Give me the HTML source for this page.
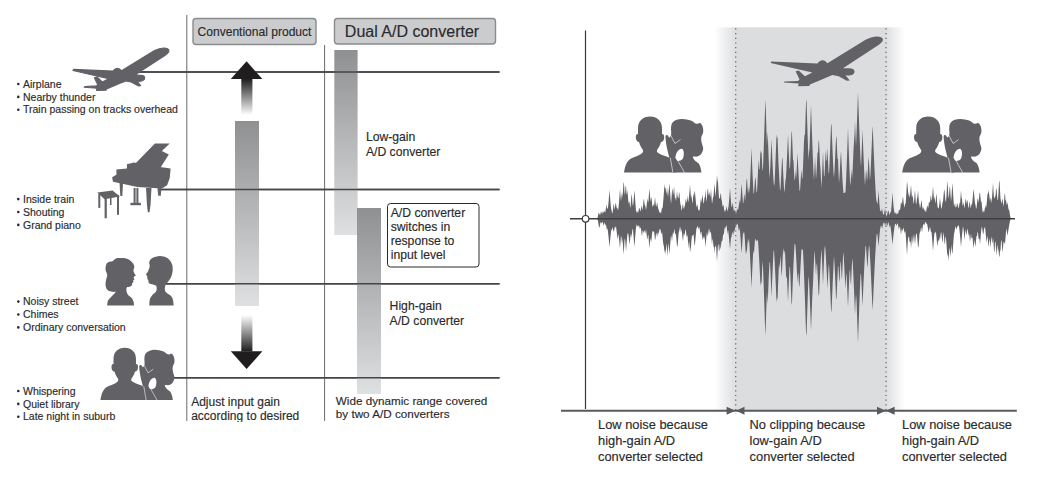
<!DOCTYPE html>
<html><head><meta charset="utf-8"><style>
html,body{margin:0;padding:0;background:#fff;}
svg{display:block;font-family:"Liberation Sans",sans-serif;} text{stroke:#2a2a2c;stroke-width:0.15px;}
</style></head><body>
<svg width="1058" height="481" viewBox="0 0 1058 481">
<rect width="1058" height="481" fill="#fff"/>
<line x1="186.8" y1="15" x2="186.8" y2="421" stroke="#6a6a6c" stroke-width="1"/>
<line x1="324.6" y1="45" x2="324.6" y2="421" stroke="#6a6a6c" stroke-width="1"/>
<line x1="100" y1="72" x2="499.5" y2="72" stroke="#454547" stroke-width="1.6"/>
<line x1="160" y1="189.5" x2="499.5" y2="189.5" stroke="#454547" stroke-width="1.6"/>
<line x1="165" y1="283.7" x2="499.5" y2="283.7" stroke="#454547" stroke-width="1.6"/>
<line x1="170" y1="377.7" x2="499.5" y2="377.7" stroke="#454547" stroke-width="1.6"/>
<rect x="193" y="18.5" width="123" height="26" rx="3" fill="#cbccce" stroke="#8b8b8d" stroke-width="1.4"/>
<text x="254.5" y="35.5" text-anchor="middle" font-size="12.05" fill="#2a2a2c">Conventional product</text>
<rect x="334.5" y="18.5" width="161" height="25.5" rx="3" fill="#cbccce" stroke="#8b8b8d" stroke-width="1.4"/>
<text x="412" y="37" text-anchor="middle" font-size="16" fill="#2a2a2c">Dual A/D converter</text>
<defs><linearGradient id="gbar" x1="0" y1="0" x2="0" y2="1"><stop offset="0" stop-color="#8f9092"/><stop offset="1" stop-color="#dfe0e2"/></linearGradient><linearGradient id="gup" x1="0" y1="0" x2="0" y2="1"><stop offset="0" stop-color="#1f1d1e"/><stop offset="1" stop-color="#ffffff"/></linearGradient><linearGradient id="gdn" x1="0" y1="1" x2="0" y2="0"><stop offset="0" stop-color="#1f1d1e"/><stop offset="1" stop-color="#ffffff"/></linearGradient><linearGradient id="gshL" x1="0" y1="0" x2="1" y2="0"><stop offset="0" stop-color="#ffffff"/><stop offset="1" stop-color="#dcdddf"/></linearGradient><linearGradient id="gshR" x1="0" y1="0" x2="1" y2="0"><stop offset="0" stop-color="#dcdddf"/><stop offset="1" stop-color="#ffffff"/></linearGradient></defs>
<rect x="235" y="121" width="24" height="185" fill="url(#gbar)"/>
<rect x="334.3" y="50" width="23.3" height="185" fill="url(#gbar)"/>
<rect x="357" y="208" width="24" height="186" fill="url(#gbar)"/>
<line x1="100" y1="72" x2="499.5" y2="72" stroke="#454547" stroke-width="1.6"/>
<line x1="160" y1="189.5" x2="499.5" y2="189.5" stroke="#454547" stroke-width="1.6"/>
<line x1="165" y1="283.7" x2="499.5" y2="283.7" stroke="#454547" stroke-width="1.6"/>
<line x1="170" y1="377.7" x2="499.5" y2="377.7" stroke="#454547" stroke-width="1.6"/>
<rect x="241.3" y="79" width="11.1" height="36" fill="url(#gup)"/>
<polygon points="246.6,61.3 262.4,79.1 230.8,79.1" fill="#1f1d1e"/>
<rect x="241.3" y="315" width="11.1" height="36.5" fill="url(#gdn)"/>
<polygon points="230.8,351.2 262.4,351.2 246.6,369" fill="#1f1d1e"/>
<rect x="387.5" y="203.5" width="91.5" height="63.5" rx="3" fill="#fff" stroke="#2a2a2c" stroke-width="1"/>
<text x="390.7" y="216.5" font-size="12.2" fill="#2a2a2c">A/D converter</text>
<text x="390.7" y="230.7" font-size="12.2" fill="#2a2a2c">switches in</text>
<text x="390.7" y="244.9" font-size="12.2" fill="#2a2a2c">response to</text>
<text x="390.7" y="259.1" font-size="12.2" fill="#2a2a2c">input level</text>
<text x="365.9" y="140.7" font-size="12.2" fill="#2a2a2c">Low-gain</text>
<text x="365.9" y="155.8" font-size="12.2" fill="#2a2a2c">A/D converter</text>
<text x="389.6" y="309.6" font-size="12.2" fill="#2a2a2c">High-gain</text>
<text x="389.6" y="324.6" font-size="12.2" fill="#2a2a2c">A/D converter</text>
<text x="191.2" y="405.7" font-size="12" fill="#2a2a2c">Adjust input gain</text>
<text x="191.2" y="420.2" font-size="12" fill="#2a2a2c">according to desired</text>
<text x="335.8" y="404.8" font-size="11.7" fill="#2a2a2c">Wide dynamic range covered</text>
<text x="335.8" y="418.4" font-size="11.7" fill="#2a2a2c">by two A/D converters</text>
<circle cx="18.3" cy="84.0" r="1.3" fill="#2a2a2c"/>
<text x="23" y="87.6" font-size="10.5" fill="#2a2a2c">Airplane</text>
<circle cx="18.3" cy="96.9" r="1.3" fill="#2a2a2c"/>
<text x="23" y="100.5" font-size="10.5" fill="#2a2a2c">Nearby thunder</text>
<circle cx="18.3" cy="109.8" r="1.3" fill="#2a2a2c"/>
<text x="23" y="113.4" font-size="10.5" fill="#2a2a2c">Train passing on tracks overhead</text>
<circle cx="18.3" cy="199.1" r="1.3" fill="#2a2a2c"/>
<text x="23" y="202.7" font-size="10.5" fill="#2a2a2c">Inside train</text>
<circle cx="18.3" cy="212.0" r="1.3" fill="#2a2a2c"/>
<text x="23" y="215.6" font-size="10.5" fill="#2a2a2c">Shouting</text>
<circle cx="18.3" cy="224.9" r="1.3" fill="#2a2a2c"/>
<text x="23" y="228.5" font-size="10.5" fill="#2a2a2c">Grand piano</text>
<circle cx="18.3" cy="301.6" r="1.3" fill="#2a2a2c"/>
<text x="23" y="305.2" font-size="10.5" fill="#2a2a2c">Noisy street</text>
<circle cx="18.3" cy="314.5" r="1.3" fill="#2a2a2c"/>
<text x="23" y="318.1" font-size="10.5" fill="#2a2a2c">Chimes</text>
<circle cx="18.3" cy="327.4" r="1.3" fill="#2a2a2c"/>
<text x="23" y="331.0" font-size="10.5" fill="#2a2a2c">Ordinary conversation</text>
<circle cx="18.3" cy="391.0" r="1.3" fill="#2a2a2c"/>
<text x="23" y="394.6" font-size="10.5" fill="#2a2a2c">Whispering</text>
<circle cx="18.3" cy="403.9" r="1.3" fill="#2a2a2c"/>
<text x="23" y="407.5" font-size="10.5" fill="#2a2a2c">Quiet library</text>
<circle cx="18.3" cy="416.8" r="1.3" fill="#2a2a2c"/>
<text x="23" y="420.4" font-size="10.5" fill="#2a2a2c">Late night in suburb</text>
<rect x="0" y="422" width="520" height="59" fill="#fff"/>
<rect x="736" y="27.3" width="150" height="383" fill="#dcdddf"/>
<rect x="714.5" y="27.3" width="22" height="383" fill="url(#gshL)"/>
<rect x="885.5" y="27.3" width="19" height="383" fill="url(#gshR)"/>
<polygon fill="#626166" points="597.0,218.8 597.5,217.8 598.0,216.0 598.5,213.1 599.0,212.8 599.5,214.3 600.0,215.3 600.5,213.4 601.0,211.2 601.5,212.4 602.0,214.3 602.5,212.5 603.0,210.7 603.5,212.7 604.0,212.5 604.5,210.2 605.0,212.8 605.5,211.1 606.0,207.6 606.5,204.2 607.0,208.1 607.5,208.9 608.0,207.4 608.5,202.5 609.0,196.5 609.5,189.7 610.0,196.5 610.5,202.5 611.0,207.8 611.5,210.2 612.0,212.5 612.5,213.6 613.0,209.4 613.5,204.3 614.0,205.1 614.5,210.0 615.0,207.1 615.5,203.3 616.0,203.5 616.5,207.3 617.0,208.1 617.5,208.6 618.0,210.6 618.5,207.7 619.0,202.2 619.5,195.8 620.0,188.7 620.5,195.8 621.0,201.5 621.5,196.2 622.0,192.0 622.5,197.7 623.0,190.3 623.5,182.1 624.0,184.0 624.5,192.1 625.0,195.2 625.5,187.1 626.0,185.6 626.5,192.8 627.0,195.0 627.5,189.2 628.0,196.9 628.5,203.8 629.0,201.8 629.5,202.0 630.0,206.4 630.5,207.6 631.0,201.0 631.5,193.5 632.0,197.0 632.5,204.1 633.0,206.1 633.5,202.1 634.0,195.0 634.5,190.3 635.0,197.9 635.5,204.6 636.0,210.3 636.5,212.7 637.0,211.1 637.5,212.1 638.0,213.1 638.5,210.7 639.0,208.1 639.5,207.9 640.0,210.5 640.5,211.4 641.0,208.4 641.5,205.0 642.0,208.3 642.5,210.3 643.0,205.9 643.5,200.8 644.0,198.5 644.5,203.9 645.0,205.4 645.5,206.7 646.0,210.1 646.5,206.8 647.0,202.1 647.5,197.9 648.0,203.0 648.5,200.4 649.0,193.1 649.5,188.3 650.0,196.1 650.5,202.0 651.0,197.2 651.5,197.9 652.0,202.6 652.5,206.9 653.0,206.0 653.5,203.7 654.0,206.5 654.5,202.0 655.0,197.0 655.5,202.0 656.0,206.5 656.5,206.1 657.0,202.2 657.5,204.2 658.0,207.9 658.5,209.3 659.0,211.1 659.5,212.9 660.0,211.3 660.5,213.1 661.0,213.5 661.5,210.6 662.0,207.2 662.5,208.7 663.0,203.7 663.5,197.9 664.0,191.3 664.5,184.0 665.0,188.4 665.5,187.2 666.0,191.7 666.5,193.7 667.0,187.1 667.5,193.3 668.0,197.0 668.5,192.7 669.0,187.7 669.5,183.0 670.0,190.7 670.5,197.7 671.0,203.9 671.5,198.0 672.0,191.0 672.5,188.2 673.0,195.5 673.5,192.2 674.0,186.0 674.5,192.7 675.0,198.8 675.5,197.5 676.0,201.5 676.5,196.4 677.0,190.8 677.5,196.4 678.0,197.6 678.5,198.2 679.0,191.7 679.5,194.1 680.0,200.4 680.5,204.7 681.0,205.8 681.5,210.6 682.0,209.5 682.5,205.4 683.0,203.7 683.5,208.0 684.0,209.1 684.5,206.4 685.0,205.4 685.5,200.7 686.0,198.3 686.5,203.2 687.0,200.2 687.5,195.4 688.0,201.7 688.5,200.9 689.0,196.2 689.5,191.6 690.0,184.5 690.5,191.6 691.0,198.1 691.5,195.1 692.0,200.3 692.5,203.8 693.0,197.9 693.5,193.0 694.0,196.9 694.5,191.1 695.0,192.3 695.5,197.9 696.0,203.1 696.5,207.6 697.0,204.9 697.5,205.1 698.0,208.8 698.5,210.6 699.0,210.0 699.5,211.1 700.0,206.8 700.5,201.8 701.0,198.0 701.5,202.8 702.0,198.3 702.5,194.6 703.0,199.4 703.5,203.8 704.0,202.6 704.5,197.5 705.0,197.1 705.5,189.7 706.0,197.1 706.5,201.9 707.0,196.2 707.5,190.0 708.0,188.3 708.5,194.7 709.0,194.5 709.5,191.7 710.0,197.1 710.5,195.4 711.0,188.2 711.5,196.7 712.0,204.1 712.5,200.8 713.0,197.4 713.5,196.1 714.0,189.6 714.5,183.5 715.0,190.5 715.5,196.8 716.0,190.4 716.5,183.1 717.0,175.2 717.5,180.6 718.0,182.3 718.5,190.7 719.0,198.3 719.5,198.2 720.0,198.4 720.5,193.1 721.0,194.2 721.5,199.4 722.0,201.4 722.5,206.5 723.0,205.7 723.5,204.8 724.0,208.8 724.5,212.3 725.0,209.5 725.5,211.6 726.0,209.8 726.5,205.9 727.0,208.5 727.5,211.7 728.0,209.2 728.5,206.4 729.0,201.8 729.5,195.2 730.0,187.7 730.5,195.2 731.0,201.8 731.5,207.2 732.0,206.7 732.5,202.5 733.0,205.2 733.5,209.1 734.0,211.7 734.5,209.6 735.0,210.4 735.5,212.5 736.0,214.1 736.5,212.1 737.0,210.0 737.5,208.3 738.0,210.6 738.5,208.1 739.0,204.1 739.5,199.6 740.0,204.1 740.5,199.4 741.0,192.0 741.5,183.7 742.0,188.8 742.5,196.5 743.0,203.3 743.5,202.8 744.0,195.7 744.5,194.0 745.0,201.3 745.5,195.9 746.0,188.6 746.5,180.5 747.0,178.3 747.5,186.6 748.0,194.1 748.5,191.1 749.0,186.2 749.5,192.8 750.0,183.7 750.5,172.8 751.0,160.9 751.5,148.0 752.0,160.9 752.5,172.8 753.0,183.7 753.5,193.4 754.0,193.2 754.5,186.4 755.0,179.0 755.5,177.6 756.0,185.1 756.5,192.1 757.0,192.2 757.5,182.3 758.0,171.3 758.5,159.3 759.0,168.4 759.5,169.7 760.0,160.2 760.5,150.0 761.0,153.4 761.5,151.3 762.0,161.8 762.5,171.5 763.0,167.8 763.5,154.8 764.0,140.7 764.5,125.6 765.0,109.5 765.5,99.3 766.0,116.0 766.5,131.7 767.0,145.9 767.5,131.7 768.0,140.3 768.5,154.0 769.0,166.6 769.5,178.2 770.0,172.4 770.5,162.0 771.0,150.8 771.5,138.9 772.0,150.8 772.5,162.0 773.0,172.4 773.5,180.8 774.0,186.1 774.5,183.9 775.0,172.9 775.5,160.9 776.0,147.9 776.5,133.9 777.0,139.1 777.5,136.1 778.0,150.6 778.5,164.1 779.0,172.4 779.5,182.2 780.0,191.0 780.5,188.8 781.0,179.6 781.5,169.6 782.0,158.7 782.5,158.0 783.0,168.9 783.5,179.0 784.0,188.2 784.5,193.0 785.0,185.7 785.5,179.9 786.0,177.6 786.5,167.8 787.0,157.3 787.5,146.0 788.0,134.0 788.5,146.0 789.0,157.3 789.5,167.8 790.0,169.0 790.5,157.1 791.0,144.4 791.5,130.7 792.0,133.5 792.5,147.0 793.0,159.6 793.5,160.9 794.0,171.0 794.5,180.4 795.0,178.8 795.5,169.6 796.0,179.0 796.5,173.0 797.0,163.3 797.5,152.8 798.0,163.3 798.5,173.0 799.0,182.1 799.5,190.4 800.0,190.9 800.5,183.0 801.0,174.4 801.5,169.6 802.0,178.6 802.5,178.3 803.0,166.9 803.5,154.5 804.0,141.2 804.5,134.8 805.0,134.7 805.5,119.2 806.0,102.7 806.5,99.2 807.0,115.9 807.5,131.7 808.0,146.4 808.5,160.1 809.0,152.4 809.5,148.2 810.0,134.6 810.5,120.1 811.0,104.7 811.5,120.1 812.0,134.6 812.5,148.2 813.0,160.9 813.5,172.6 814.0,180.2 814.5,168.9 815.0,156.6 815.5,167.6 816.0,179.0 816.5,173.1 817.0,163.0 817.5,152.2 818.0,152.9 818.5,142.5 819.0,140.0 819.5,152.1 820.0,163.4 820.5,169.0 821.0,179.2 821.5,188.0 822.0,176.8 822.5,164.5 823.0,151.0 823.5,164.5 824.0,176.8 824.5,175.6 825.0,165.7 825.5,155.1 826.0,150.0 826.5,160.9 827.0,160.0 827.5,146.9 828.0,160.0 828.5,172.1 829.0,173.9 829.5,163.2 830.0,151.6 830.5,139.2 831.0,126.0 831.5,123.3 832.0,136.6 832.5,149.2 833.0,160.9 833.5,171.8 834.0,177.7 834.5,170.9 835.0,160.7 835.5,149.8 836.0,138.3 836.5,135.9 837.0,147.6 837.5,158.6 838.0,159.3 838.5,171.8 839.0,183.2 839.5,176.7 840.0,167.5 840.5,157.5 841.0,151.1 841.5,161.5 842.0,171.2 842.5,180.2 843.0,188.1 843.5,193.0 844.0,192.9 844.5,192.8 845.0,192.7 845.5,192.0 846.0,181.5 846.5,169.8 847.0,157.0 847.5,143.0 848.0,128.0 848.5,143.0 849.0,157.0 849.5,169.8 850.0,181.5 850.5,185.8 851.0,175.8 851.5,168.9 852.0,179.5 852.5,172.8 853.0,161.8 853.5,150.0 854.0,141.8 854.5,134.8 855.0,120.8 855.5,134.8 856.0,146.8 856.5,134.1 857.0,120.7 857.5,106.5 858.0,91.6 858.5,106.5 859.0,120.7 859.5,134.1 860.0,146.8 860.5,158.7 861.0,167.1 861.5,155.4 862.0,142.9 862.5,129.5 863.0,142.9 863.5,155.4 864.0,167.1 864.5,177.9 865.0,185.5 865.5,177.7 866.0,169.4 866.5,173.3 867.0,181.3 867.5,176.6 868.0,167.2 868.5,157.1 869.0,162.0 869.5,171.8 870.0,180.8 870.5,173.4 871.0,162.7 871.5,151.1 872.0,138.8 872.5,125.7 873.0,133.6 873.5,146.3 874.0,158.1 874.5,169.2 875.0,179.4 875.5,188.7 876.0,197.0 876.5,201.4 877.0,202.0 877.5,204.4 878.0,197.9 878.5,190.6 879.0,197.9 879.5,204.4 880.0,210.0 880.5,210.9 881.0,211.5 881.5,210.8 882.0,208.1 882.5,211.5 883.0,214.1 883.5,214.6 884.0,214.4 884.5,211.3 885.0,208.2 885.5,211.9 886.0,214.9 886.5,216.3 887.0,215.1 887.5,213.1 888.0,210.8 888.5,210.8 889.0,213.1 889.5,215.2 890.0,213.1 890.5,212.6 891.0,211.6 891.5,206.2 892.0,199.8 892.5,192.4 893.0,199.8 893.5,206.2 894.0,210.2 894.5,212.8 895.0,213.9 895.5,211.9 896.0,213.7 896.5,214.4 897.0,212.2 897.5,213.4 898.0,214.2 898.5,211.9 899.0,209.3 899.5,209.9 900.0,210.5 900.5,206.5 901.0,201.8 901.5,203.5 902.0,203.9 902.5,199.2 903.0,196.3 903.5,201.2 904.0,205.7 904.5,207.7 905.0,203.6 905.5,204.6 906.0,198.8 906.5,190.5 907.0,181.2 907.5,185.0 908.0,190.8 908.5,196.4 909.0,191.9 909.5,197.2 910.0,196.7 910.5,190.3 911.0,184.8 911.5,191.7 912.0,197.9 912.5,194.9 913.0,197.2 913.5,203.5 914.0,202.7 914.5,195.5 915.0,189.7 915.5,197.6 916.0,204.5 916.5,203.0 917.0,198.5 917.5,196.4 918.0,190.0 918.5,196.4 919.0,202.2 919.5,204.5 920.0,208.0 920.5,206.6 921.0,202.3 921.5,199.9 922.0,204.4 922.5,208.5 923.0,208.8 923.5,206.8 924.0,210.3 924.5,210.7 925.0,208.5 925.5,211.7 926.0,212.3 926.5,209.4 927.0,206.1 927.5,205.4 928.0,208.8 928.5,205.8 929.0,201.4 929.5,202.5 930.0,202.6 930.5,197.3 931.0,195.1 931.5,200.7 932.0,199.6 932.5,193.2 933.0,186.0 933.5,193.2 934.0,199.6 934.5,196.2 935.0,201.1 935.5,203.6 936.0,197.1 936.5,193.4 937.0,200.4 937.5,206.4 938.0,207.9 938.5,208.4 939.0,206.9 939.5,202.4 940.0,197.4 940.5,202.4 941.0,206.9 941.5,209.3 942.0,206.1 942.5,202.5 943.0,201.5 943.5,196.1 944.0,190.2 944.5,190.1 945.0,196.0 945.5,201.1 946.0,202.1 946.5,195.1 947.0,186.4 947.5,180.7 948.0,190.0 948.5,198.3 949.0,195.9 949.5,188.0 950.0,186.2 950.5,194.3 951.0,201.5 951.5,196.7 952.0,188.5 952.5,183.1 953.0,191.9 953.5,199.7 954.0,206.5 954.5,203.1 955.0,206.9 955.5,207.6 956.0,202.5 956.5,207.0 957.0,207.1 957.5,203.0 958.0,204.7 958.5,208.6 959.0,207.6 959.5,202.2 960.0,204.0 960.5,197.4 961.0,190.0 961.5,197.4 962.0,198.9 962.5,205.0 963.0,205.8 963.5,201.8 964.0,205.4 964.5,208.6 965.0,204.2 965.5,199.3 966.0,199.2 966.5,204.2 967.0,200.8 967.5,200.2 968.0,204.7 968.5,208.8 969.0,206.1 969.5,201.3 970.0,203.4 970.5,207.9 971.0,207.3 971.5,203.2 972.0,205.3 972.5,200.3 973.0,194.8 973.5,188.8 974.0,192.5 974.5,198.2 975.0,203.4 975.5,204.8 976.0,208.8 976.5,208.0 977.0,203.8 977.5,199.2 978.0,198.2 978.5,203.0 979.0,198.6 979.5,193.3 980.0,192.4 980.5,197.5 981.0,202.2 981.5,201.1 982.0,206.6 982.5,211.3 983.0,212.9 983.5,209.9 984.0,212.7 984.5,210.3 985.0,207.4 985.5,205.3 986.0,208.5 986.5,205.1 987.0,199.9 987.5,194.1 988.0,193.8 988.5,189.9 989.0,193.4 989.5,197.2 990.0,202.0 990.5,198.8 991.0,197.5 991.5,203.6 992.0,197.8 992.5,190.7 993.0,182.8 993.5,190.8 994.0,197.9 994.5,198.3 995.0,196.4 995.5,196.0 996.0,189.8 996.5,187.7 997.0,194.0 997.5,199.8 998.0,200.2 998.5,191.9 999.0,182.4 999.5,180.4 1000.0,190.1 1000.5,198.6 1001.0,201.6 1001.5,204.0 1002.0,199.9 1002.5,198.7 1003.0,202.9 1003.5,206.8 1004.0,202.2 1004.5,194.9 1005.0,193.3 1005.5,200.8 1006.0,200.0 1006.5,203.4 1007.0,205.4 1007.5,201.8 1008.0,205.7 1008.5,209.2 1009.0,209.7 1009.5,211.8 1010.0,215.4 1010.5,217.6 1011.0,218.8 1011.0,218.8 1010.5,219.4 1010.0,220.8 1009.5,223.5 1009.0,226.2 1008.5,229.3 1008.0,232.8 1007.5,235.7 1007.0,231.9 1006.5,228.4 1006.0,232.1 1005.5,237.8 1005.0,244.3 1004.5,242.9 1004.0,241.7 1003.5,241.8 1003.0,248.1 1002.5,252.7 1002.0,246.0 1001.5,239.9 1001.0,241.6 1000.5,250.3 1000.0,250.9 999.5,257.2 999.0,255.5 998.5,247.7 998.0,252.6 997.5,244.8 997.0,247.0 996.5,255.7 996.0,249.2 995.5,241.2 995.0,242.8 994.5,251.8 994.0,251.6 993.5,242.6 993.0,237.5 992.5,243.3 992.0,242.0 991.5,236.3 991.0,240.0 990.5,248.0 990.0,242.2 989.5,237.7 989.0,243.4 988.5,247.0 988.0,241.1 987.5,235.6 987.0,239.0 986.5,242.8 986.0,236.8 985.5,231.5 985.0,227.0 984.5,227.8 984.0,229.4 983.5,233.4 983.0,234.3 982.5,230.2 982.0,226.5 981.5,228.2 981.0,232.8 980.5,238.4 980.0,244.7 979.5,238.4 979.0,239.4 978.5,238.3 978.0,232.5 977.5,232.2 977.0,236.0 976.5,235.9 976.0,240.8 975.5,246.8 975.0,243.9 974.5,239.3 974.0,244.8 973.5,248.3 973.0,242.5 972.5,237.3 972.0,238.3 971.5,238.3 971.0,233.5 970.5,238.0 970.0,241.7 969.5,236.9 969.0,232.9 968.5,236.3 968.0,230.7 967.5,228.4 967.0,231.7 966.5,235.3 966.0,232.7 965.5,229.3 965.0,234.3 964.5,240.0 964.0,234.2 963.5,229.2 963.0,226.3 962.5,230.4 962.0,235.3 961.5,240.9 961.0,247.0 960.5,240.9 960.0,235.3 959.5,230.4 959.0,226.1 958.5,224.7 958.0,227.4 957.5,225.7 957.0,226.9 956.5,229.8 956.0,228.3 955.5,226.1 955.0,228.8 954.5,231.9 954.0,234.1 953.5,240.0 953.0,246.7 952.5,254.1 952.0,252.1 951.5,244.2 951.0,251.3 950.5,257.5 950.0,249.9 949.5,247.4 949.0,254.6 948.5,261.3 948.0,253.6 947.5,256.5 947.0,251.8 946.5,244.5 946.0,238.0 945.5,236.2 945.0,243.5 944.5,243.8 944.0,236.4 943.5,231.9 943.0,237.1 942.5,242.9 942.0,239.6 941.5,234.1 941.0,231.6 940.5,235.5 940.0,239.8 939.5,236.7 939.0,241.7 938.5,240.1 938.0,240.9 937.5,246.6 937.0,243.0 936.5,237.6 936.0,232.7 935.5,231.4 935.0,233.7 934.5,232.4 934.0,238.1 933.5,244.4 933.0,250.9 932.5,243.9 932.0,237.5 931.5,231.9 931.0,232.3 930.5,229.4 930.0,226.7 929.5,228.4 929.0,231.6 928.5,232.2 928.0,228.9 927.5,226.0 927.0,223.4 926.5,224.3 926.0,222.3 925.5,221.9 925.0,222.9 924.5,224.7 924.0,225.2 923.5,223.4 923.0,225.3 922.5,228.6 922.0,232.4 921.5,228.5 921.0,227.3 920.5,231.0 920.0,232.3 919.5,233.8 919.0,241.2 918.5,247.1 918.0,247.0 917.5,240.7 917.0,235.6 916.5,233.4 916.0,233.8 915.5,238.9 915.0,244.5 914.5,238.8 914.0,233.7 913.5,238.0 913.0,244.0 912.5,240.8 912.0,235.1 911.5,242.5 911.0,248.3 910.5,241.1 910.0,242.2 909.5,241.5 909.0,236.2 908.5,237.1 908.0,238.6 907.5,246.6 907.0,255.6 906.5,246.6 906.0,238.8 905.5,232.0 905.0,231.0 904.5,233.6 904.0,230.2 903.5,227.2 903.0,229.6 902.5,231.8 902.0,228.3 901.5,230.5 901.0,234.5 900.5,230.5 900.0,227.0 899.5,226.5 899.0,229.4 898.5,227.4 898.0,224.8 897.5,223.0 897.0,224.6 896.5,226.1 896.0,224.3 895.5,223.8 895.0,224.2 894.5,226.9 894.0,230.6 893.5,234.8 893.0,239.5 892.5,244.7 892.0,239.5 891.5,234.8 891.0,230.6 890.5,226.9 890.0,224.7 889.5,227.7 889.0,224.8 888.5,222.2 888.0,222.7 887.5,225.1 887.0,226.6 886.5,224.0 886.0,222.3 885.5,224.7 885.0,225.9 884.5,223.3 884.0,222.5 883.5,223.0 883.0,224.0 882.5,227.2 882.0,228.6 881.5,225.4 881.0,226.1 880.5,226.7 880.0,230.2 879.5,235.0 879.0,240.4 878.5,246.4 878.0,240.4 877.5,235.0 877.0,233.3 876.5,235.8 876.0,242.9 875.5,251.0 875.0,259.8 874.5,269.5 874.0,279.9 873.5,291.0 873.0,302.8 872.5,310.2 872.0,298.0 871.5,286.5 871.0,275.6 870.5,265.5 870.0,256.2 869.5,247.6 869.0,245.5 868.5,250.8 868.0,259.3 867.5,268.6 867.0,262.8 866.5,254.0 866.0,245.9 865.5,245.9 865.0,254.1 864.5,263.1 864.0,272.9 863.5,283.4 863.0,294.5 862.5,306.3 862.0,294.5 861.5,283.4 861.0,272.9 860.5,275.4 860.0,287.4 859.5,300.2 859.0,313.9 858.5,328.3 858.0,343.5 857.5,328.3 857.0,313.9 856.5,300.2 856.0,294.0 855.5,301.9 855.0,314.8 854.5,301.9 854.0,289.6 853.5,278.1 853.0,267.3 852.5,258.5 852.0,262.5 851.5,273.6 851.0,285.6 850.5,280.6 850.0,268.9 849.5,272.2 849.0,283.3 848.5,295.2 848.0,307.8 847.5,295.2 847.0,283.3 846.5,272.2 846.0,277.6 845.5,288.7 845.0,281.6 844.5,271.0 844.0,261.1 843.5,252.0 843.0,256.8 842.5,267.8 842.0,279.9 841.5,275.6 841.0,263.9 840.5,261.1 840.0,271.4 839.5,282.5 839.0,278.5 838.5,267.7 838.0,265.5 837.5,276.1 837.0,287.6 836.5,299.8 836.0,297.3 835.5,285.2 835.0,273.9 834.5,263.4 834.0,256.0 833.5,265.4 833.0,276.0 832.5,287.4 832.0,299.5 831.5,312.4 831.0,309.8 830.5,297.1 830.0,285.1 829.5,273.8 829.0,263.4 828.5,268.6 828.0,278.6 827.5,289.3 827.0,278.6 826.5,268.6 826.0,259.2 825.5,250.7 825.0,245.5 824.5,248.8 824.0,259.7 823.5,271.9 823.0,285.2 822.5,271.9 822.0,259.7 821.5,248.8 821.0,255.7 820.5,264.8 820.0,274.6 819.5,285.1 819.0,296.3 818.5,294.0 818.0,282.9 817.5,272.6 817.0,262.9 816.5,265.8 816.0,275.8 815.5,266.3 815.0,257.0 814.5,250.2 814.0,259.8 813.5,271.2 813.0,283.6 812.5,291.7 812.0,303.9 811.5,316.9 811.0,330.6 810.5,316.9 810.0,303.9 809.5,291.7 809.0,280.1 808.5,276.2 808.0,289.7 807.5,304.1 807.0,319.6 806.5,336.0 806.0,332.6 805.5,316.4 805.0,301.2 804.5,286.9 804.0,273.7 803.5,261.6 803.0,250.6 802.5,249.6 802.0,249.0 801.5,249.6 801.0,257.9 800.5,266.9 800.0,276.6 799.5,286.9 799.0,284.9 798.5,274.7 798.0,273.0 797.5,283.5 797.0,273.0 796.5,263.2 796.0,254.1 795.5,245.9 795.0,243.4 794.5,244.4 794.0,253.9 793.5,264.5 793.0,276.1 792.5,288.7 792.0,302.2 791.5,305.0 791.0,291.3 790.5,278.6 790.0,266.7 789.5,267.2 789.0,278.0 788.5,289.6 788.0,301.9 787.5,289.6 787.0,278.0 786.5,278.0 786.0,274.7 785.5,262.7 785.0,251.8 784.5,250.4 784.0,255.2 783.5,248.1 783.0,251.5 782.5,261.1 782.0,271.6 781.5,276.5 781.0,265.6 780.5,255.6 780.0,262.2 779.5,268.9 779.0,263.4 778.5,274.8 778.0,287.1 777.5,300.3 777.0,297.6 776.5,302.4 776.0,290.3 775.5,279.0 775.0,268.4 774.5,258.6 774.0,249.6 773.5,252.0 773.0,261.9 772.5,272.8 772.0,284.5 771.5,297.1 771.0,284.5 770.5,272.8 770.0,261.9 769.5,262.6 769.0,271.3 768.5,283.3 768.0,296.2 767.5,304.3 767.0,290.9 766.5,303.3 766.0,319.1 765.5,335.8 765.0,325.6 764.5,309.5 764.0,294.4 763.5,280.3 763.0,267.4 762.5,261.1 762.0,272.2 761.5,284.2 761.0,281.7 760.5,286.2 760.0,275.6 759.5,265.6 759.0,256.4 758.5,248.0 758.0,240.9 757.5,240.2 757.0,239.7 756.5,241.1 756.0,241.0 755.5,238.8 755.0,239.2 754.5,245.9 754.0,253.3 753.5,250.5 753.0,255.3 752.5,265.4 752.0,276.3 751.5,288.2 751.0,276.3 750.5,265.4 750.0,255.3 749.5,246.1 749.0,238.0 748.5,243.3 748.0,238.7 747.5,243.4 747.0,250.1 746.5,251.5 746.0,254.4 745.5,250.4 745.0,242.0 744.5,234.7 744.0,231.1 743.5,233.6 743.0,233.5 742.5,240.3 742.0,248.0 741.5,253.1 741.0,244.8 740.5,237.4 740.0,231.0 739.5,227.5 739.0,231.4 738.5,229.0 738.0,225.4 737.5,223.1 737.0,225.1 736.5,225.1 736.0,224.0 735.5,226.4 735.0,229.1 734.5,232.1 734.0,229.9 733.5,233.3 733.0,235.6 732.5,231.9 732.0,233.0 731.5,237.2 731.0,238.1 730.5,243.4 730.0,249.3 729.5,243.4 729.0,238.1 728.5,233.2 728.0,229.6 727.5,234.6 727.0,229.5 726.5,225.2 726.0,226.0 725.5,228.5 725.0,226.6 724.5,229.1 724.0,233.0 723.5,234.4 723.0,235.2 722.5,240.0 722.0,241.5 721.5,241.0 721.0,246.9 720.5,249.3 720.0,243.2 719.5,249.9 719.0,251.3 718.5,244.6 718.0,244.6 717.5,252.7 717.0,261.5 716.5,252.7 716.0,244.6 715.5,247.3 715.0,246.6 714.5,253.4 714.0,246.6 713.5,247.1 713.0,240.5 712.5,238.7 712.0,244.9 711.5,238.3 711.0,232.3 710.5,231.8 710.0,234.0 709.5,230.4 709.0,228.3 708.5,231.7 708.0,235.5 707.5,235.5 707.0,231.7 706.5,235.6 706.0,241.2 705.5,247.3 705.0,241.2 704.5,235.6 704.0,239.6 703.5,237.4 703.0,235.7 702.5,240.7 702.0,236.7 701.5,232.0 701.0,231.7 700.5,234.9 700.0,231.1 699.5,227.8 699.0,226.6 698.5,229.6 698.0,227.8 697.5,225.4 697.0,227.7 696.5,228.0 696.0,232.7 695.5,238.2 695.0,244.3 694.5,245.6 694.0,239.4 693.5,233.8 693.0,235.5 692.5,236.4 692.0,234.6 691.5,240.3 691.0,246.6 690.5,249.4 690.0,252.4 689.5,244.0 689.0,240.6 688.5,248.6 688.0,242.1 687.5,234.8 687.0,236.7 686.5,236.2 686.0,231.2 685.5,229.1 685.0,232.5 684.5,236.3 684.0,232.8 683.5,235.6 683.0,241.3 682.5,237.7 682.0,232.4 681.5,228.7 681.0,233.1 680.5,228.6 680.0,226.6 679.5,229.4 679.0,231.6 678.5,234.2 678.0,241.4 677.5,246.6 677.0,246.2 676.5,240.5 676.0,235.3 675.5,233.8 675.0,233.6 674.5,228.7 674.0,231.2 673.5,234.9 673.0,232.0 672.5,235.8 672.0,241.8 671.5,237.2 671.0,234.9 670.5,240.7 670.0,247.0 669.5,254.0 669.0,249.7 668.5,243.1 668.0,247.0 667.5,256.6 667.0,249.2 666.5,242.7 666.0,249.1 665.5,254.7 665.0,249.2 664.5,253.0 664.0,246.7 663.5,244.9 663.0,242.1 662.5,236.4 662.0,231.3 661.5,234.2 661.0,233.2 660.5,229.3 660.0,229.5 659.5,229.0 659.0,232.6 658.5,234.6 658.0,231.0 657.5,235.1 657.0,237.0 656.5,232.8 656.0,233.9 655.5,238.7 655.0,240.2 654.5,235.2 654.0,230.8 653.5,232.2 653.0,231.6 652.5,230.8 652.0,234.8 651.5,239.3 651.0,242.8 650.5,238.0 650.0,240.3 649.5,248.6 649.0,243.5 648.5,235.8 648.0,234.5 647.5,239.4 647.0,237.9 646.5,233.2 646.0,229.2 645.5,232.3 645.0,233.4 644.5,230.2 644.0,230.9 643.5,233.5 643.0,230.2 642.5,231.3 642.0,236.4 641.5,233.5 641.0,228.8 640.5,226.9 640.0,229.6 639.5,227.3 639.0,225.6 638.5,226.8 638.0,224.7 637.5,226.2 637.0,226.9 636.5,224.0 636.0,227.7 635.5,233.1 635.0,239.5 634.5,246.8 634.0,242.3 633.5,235.6 633.0,229.7 632.5,228.7 632.0,233.0 631.5,237.9 631.0,233.2 630.5,235.7 630.0,240.4 629.5,244.7 629.0,239.6 628.5,235.0 628.0,233.1 627.5,233.7 627.0,238.7 626.5,245.0 626.0,251.3 625.5,244.3 625.0,238.0 624.5,240.8 624.0,249.1 623.5,254.5 623.0,245.6 622.5,237.9 622.0,244.3 621.5,237.7 621.0,235.5 620.5,241.5 620.0,248.3 619.5,243.8 619.0,238.5 618.5,233.8 618.0,236.6 617.5,239.2 617.0,234.5 616.5,230.2 616.0,226.4 615.5,227.9 615.0,226.1 614.5,228.6 614.0,231.6 613.5,231.5 613.0,228.5 612.5,227.3 612.0,230.8 611.5,228.7 611.0,231.9 610.5,236.5 610.0,241.7 609.5,247.3 609.0,241.7 608.5,236.5 608.0,231.9 607.5,227.8 607.0,230.4 606.5,227.7 606.0,224.6 605.5,225.5 605.0,224.0 604.5,222.4 604.0,223.8 603.5,226.0 603.0,223.3 602.5,221.7 602.0,222.5 601.5,223.6 601.0,222.0 600.5,222.6 600.0,225.0 599.5,227.8 599.0,227.0 598.5,224.3 598.0,220.9 597.5,219.4 597.0,218.8"/><path id="plane" d="M827.4,63.2 L866,39.5 C874,35.5 881,35.8 882.6,38.6 C883.6,40.8 881.5,43 878.5,45 L843.0,68.2 C846,68.5 849,68 852.3,68.8 C855.2,69.8 855.2,73.2 852.9,74.4 C851,75.6 848,75.8 845.5,75.2 L849.8,80.6 L846.8,80.8 L838.6,76.3 L832.4,75.0 L823.6,78.8 L809.9,84.4 L809.3,85.9 L798.1,86.3 L798.7,83.6 L783.7,82.5 L784.5,81.6 L798.1,80.9 L799.5,79.4 L795.6,71.3 L798.7,70.5 L804.9,76.3 L812.4,72.5 L770.6,62.9 L771.3,61.6 L817.4,63.6 C818.5,61.5 820.8,60.3 822.4,60.2 C824.2,60.1 825.8,61 827.4,63.2Z" fill="#626166"/>
<path d="M827.4,63.2 L866,39.5 C874,35.5 881,35.8 882.6,38.6 C883.6,40.8 881.5,43 878.5,45 L843.0,68.2 C846,68.5 849,68 852.3,68.8 C855.2,69.8 855.2,73.2 852.9,74.4 C851,75.6 848,75.8 845.5,75.2 L849.8,80.6 L846.8,80.8 L838.6,76.3 L832.4,75.0 L823.6,78.8 L809.9,84.4 L809.3,85.9 L798.1,86.3 L798.7,83.6 L783.7,82.5 L784.5,81.6 L798.1,80.9 L799.5,79.4 L795.6,71.3 L798.7,70.5 L804.9,76.3 L812.4,72.5 L770.6,62.9 L771.3,61.6 L817.4,63.6 C818.5,61.5 820.8,60.3 822.4,60.2 C824.2,60.1 825.8,61 827.4,63.2Z" fill="#626166" stroke="#626166" stroke-width="1.3" stroke-linejoin="round" transform="translate(-585.9,16.74) scale(0.855)"/>
<g><path d="M650,116.5 C657,116.5 662,121 662,128 L662,134 C664,134 664.5,136 664,139 C663.5,141 662.5,142 661,142 C660,146 658,148.5 657,150 L657,152 C660,154.5 664,155.5 668,157 L672,160 L676,172.6 L624,172.6 C625,166 627,160 632,158 C636,156.5 641,155 643,152 L643,150 C642,148.5 640,146 639,142 C637.5,142 636.5,141 636,139 C635.5,136 636,134 638,134 L638,128 C638,121 643,116.5 650,116.5Z" fill="#626166"/><path d="M682.60,118.90 C684.95,119.00 688.65,119.60 690.90,120.40 C693.15,121.20 694.58,123.27 696.10,123.70 C697.62,124.13 698.93,122.58 700.00,123.00 C701.07,123.42 701.97,124.70 702.50,126.20 C703.03,127.70 703.42,130.07 703.20,132.00 C702.98,133.93 701.42,135.87 701.20,137.80 C700.98,139.73 701.57,141.77 701.90,143.60 C702.23,145.43 703.32,147.07 703.20,148.80 C703.08,150.53 702.17,152.72 701.20,154.00 C700.23,155.28 698.78,156.03 697.40,156.50 C696.02,156.97 693.33,156.15 692.90,156.80 C692.47,157.45 693.83,159.27 694.80,160.40 C695.77,161.53 697.73,162.32 698.70,163.60 C699.67,164.88 700.15,166.60 700.60,168.10 C701.05,169.60 701.40,172.60 701.40,172.60 C701.40,172.60 672.90,172.60 672.90,172.60 C672.90,172.60 671.15,166.68 670.50,164.00 C669.85,161.32 669.57,159.03 669.00,156.50 C668.43,153.97 667.63,151.38 667.10,148.80 C666.57,146.22 666.05,143.17 665.80,141.00 C665.55,138.83 665.32,136.77 665.60,135.80 C665.88,134.83 666.85,134.92 667.50,135.20 C668.15,135.48 668.88,137.70 669.50,137.50 C670.12,137.30 670.95,135.55 671.20,134.00 C671.45,132.45 670.83,130.03 671.00,128.20 C671.17,126.37 671.23,124.40 672.20,123.00 C673.17,121.60 675.07,120.48 676.80,119.80 C678.53,119.12 680.25,118.80 682.60,118.90Z" fill="#626166"/><path d="M675.50,156.50 C675.77,155.32 676.33,152.68 677.40,151.40 C678.47,150.12 680.83,148.58 681.90,148.80 C682.97,149.02 683.68,150.98 683.80,152.70 C683.92,154.42 683.57,157.72 682.60,159.10 C681.63,160.48 679.13,161.10 678.00,161.00 C676.87,160.90 676.22,159.25 675.80,158.50 C675.38,157.75 675.23,157.68 675.50,156.50Z" fill="#fff"/><path d="M670,134 L675,143.5 L680.5,139.5 M670.3,157.8 L672.9,172.6 M678,161 L684.5,172.6" stroke="#fff" stroke-width="0.6" fill="none"/></g>
<g transform="translate(278.2,0)"><g><path d="M650,116.5 C657,116.5 662,121 662,128 L662,134 C664,134 664.5,136 664,139 C663.5,141 662.5,142 661,142 C660,146 658,148.5 657,150 L657,152 C660,154.5 664,155.5 668,157 L672,160 L676,172.6 L624,172.6 C625,166 627,160 632,158 C636,156.5 641,155 643,152 L643,150 C642,148.5 640,146 639,142 C637.5,142 636.5,141 636,139 C635.5,136 636,134 638,134 L638,128 C638,121 643,116.5 650,116.5Z" fill="#626166"/><path d="M682.60,118.90 C684.95,119.00 688.65,119.60 690.90,120.40 C693.15,121.20 694.58,123.27 696.10,123.70 C697.62,124.13 698.93,122.58 700.00,123.00 C701.07,123.42 701.97,124.70 702.50,126.20 C703.03,127.70 703.42,130.07 703.20,132.00 C702.98,133.93 701.42,135.87 701.20,137.80 C700.98,139.73 701.57,141.77 701.90,143.60 C702.23,145.43 703.32,147.07 703.20,148.80 C703.08,150.53 702.17,152.72 701.20,154.00 C700.23,155.28 698.78,156.03 697.40,156.50 C696.02,156.97 693.33,156.15 692.90,156.80 C692.47,157.45 693.83,159.27 694.80,160.40 C695.77,161.53 697.73,162.32 698.70,163.60 C699.67,164.88 700.15,166.60 700.60,168.10 C701.05,169.60 701.40,172.60 701.40,172.60 C701.40,172.60 672.90,172.60 672.90,172.60 C672.90,172.60 671.15,166.68 670.50,164.00 C669.85,161.32 669.57,159.03 669.00,156.50 C668.43,153.97 667.63,151.38 667.10,148.80 C666.57,146.22 666.05,143.17 665.80,141.00 C665.55,138.83 665.32,136.77 665.60,135.80 C665.88,134.83 666.85,134.92 667.50,135.20 C668.15,135.48 668.88,137.70 669.50,137.50 C670.12,137.30 670.95,135.55 671.20,134.00 C671.45,132.45 670.83,130.03 671.00,128.20 C671.17,126.37 671.23,124.40 672.20,123.00 C673.17,121.60 675.07,120.48 676.80,119.80 C678.53,119.12 680.25,118.80 682.60,118.90Z" fill="#626166"/><path d="M675.50,156.50 C675.77,155.32 676.33,152.68 677.40,151.40 C678.47,150.12 680.83,148.58 681.90,148.80 C682.97,149.02 683.68,150.98 683.80,152.70 C683.92,154.42 683.57,157.72 682.60,159.10 C681.63,160.48 679.13,161.10 678.00,161.00 C676.87,160.90 676.22,159.25 675.80,158.50 C675.38,157.75 675.23,157.68 675.50,156.50Z" fill="#fff"/><path d="M670,134 L675,143.5 L680.5,139.5 M670.3,157.8 L672.9,172.6 M678,161 L684.5,172.6" stroke="#fff" stroke-width="0.6" fill="none"/></g></g>
<g transform="translate(-483.0,238.7) scale(0.935)"><g><path d="M650,116.5 C657,116.5 662,121 662,128 L662,134 C664,134 664.5,136 664,139 C663.5,141 662.5,142 661,142 C660,146 658,148.5 657,150 L657,152 C660,154.5 664,155.5 668,157 L672,160 L676,172.6 L624,172.6 C625,166 627,160 632,158 C636,156.5 641,155 643,152 L643,150 C642,148.5 640,146 639,142 C637.5,142 636.5,141 636,139 C635.5,136 636,134 638,134 L638,128 C638,121 643,116.5 650,116.5Z" fill="#626166"/><path d="M682.60,118.90 C684.95,119.00 688.65,119.60 690.90,120.40 C693.15,121.20 694.58,123.27 696.10,123.70 C697.62,124.13 698.93,122.58 700.00,123.00 C701.07,123.42 701.97,124.70 702.50,126.20 C703.03,127.70 703.42,130.07 703.20,132.00 C702.98,133.93 701.42,135.87 701.20,137.80 C700.98,139.73 701.57,141.77 701.90,143.60 C702.23,145.43 703.32,147.07 703.20,148.80 C703.08,150.53 702.17,152.72 701.20,154.00 C700.23,155.28 698.78,156.03 697.40,156.50 C696.02,156.97 693.33,156.15 692.90,156.80 C692.47,157.45 693.83,159.27 694.80,160.40 C695.77,161.53 697.73,162.32 698.70,163.60 C699.67,164.88 700.15,166.60 700.60,168.10 C701.05,169.60 701.40,172.60 701.40,172.60 C701.40,172.60 672.90,172.60 672.90,172.60 C672.90,172.60 671.15,166.68 670.50,164.00 C669.85,161.32 669.57,159.03 669.00,156.50 C668.43,153.97 667.63,151.38 667.10,148.80 C666.57,146.22 666.05,143.17 665.80,141.00 C665.55,138.83 665.32,136.77 665.60,135.80 C665.88,134.83 666.85,134.92 667.50,135.20 C668.15,135.48 668.88,137.70 669.50,137.50 C670.12,137.30 670.95,135.55 671.20,134.00 C671.45,132.45 670.83,130.03 671.00,128.20 C671.17,126.37 671.23,124.40 672.20,123.00 C673.17,121.60 675.07,120.48 676.80,119.80 C678.53,119.12 680.25,118.80 682.60,118.90Z" fill="#626166"/><path d="M675.50,156.50 C675.77,155.32 676.33,152.68 677.40,151.40 C678.47,150.12 680.83,148.58 681.90,148.80 C682.97,149.02 683.68,150.98 683.80,152.70 C683.92,154.42 683.57,157.72 682.60,159.10 C681.63,160.48 679.13,161.10 678.00,161.00 C676.87,160.90 676.22,159.25 675.80,158.50 C675.38,157.75 675.23,157.68 675.50,156.50Z" fill="#fff"/><path d="M670,134 L675,143.5 L680.5,139.5 M670.3,157.8 L672.9,172.6 M678,161 L684.5,172.6" stroke="#fff" stroke-width="0.6" fill="none"/></g></g>
<path d="M120.00,258.10 C121.87,258.10 124.83,258.07 126.80,258.70 C128.77,259.33 130.55,260.65 131.80,261.90 C133.05,263.15 134.02,264.85 134.30,266.20 C134.58,267.55 133.55,268.95 133.50,270.00 C133.45,271.05 133.58,271.57 134.00,272.50 C134.42,273.43 136.00,275.60 136.00,275.60 C136.00,275.60 133.98,276.58 133.70,277.20 C133.42,277.82 134.40,278.73 134.30,279.30 C134.20,279.87 133.23,280.18 133.10,280.60 C132.97,281.02 133.65,281.32 133.50,281.80 C133.35,282.28 132.48,282.87 132.20,283.50 C131.92,284.13 132.28,285.05 131.80,285.60 C131.32,286.15 130.13,286.48 129.30,286.80 C128.47,287.12 127.27,286.77 126.80,287.50 C126.33,288.23 126.28,289.95 126.50,291.20 C126.72,292.45 127.22,293.85 128.10,295.00 C128.98,296.15 130.88,296.93 131.80,298.10 C132.72,299.27 133.23,300.75 133.60,302.00 C133.97,303.25 134.00,305.60 134.00,305.60 C134.00,305.60 107.20,305.60 107.20,305.60 C107.20,305.60 107.43,302.15 107.80,301.00 C108.17,299.85 108.42,299.82 109.40,298.70 C110.38,297.58 112.67,295.45 113.70,294.30 C114.73,293.15 115.80,292.22 115.60,291.80 C115.40,291.38 113.85,292.10 112.50,291.80 C111.15,291.50 108.65,291.03 107.50,290.00 C106.35,288.97 105.85,287.27 105.60,285.60 C105.35,283.93 105.73,281.77 106.00,280.00 C106.27,278.23 107.27,276.67 107.20,275.00 C107.13,273.33 105.77,271.77 105.60,270.00 C105.43,268.23 105.68,265.75 106.20,264.40 C106.72,263.05 107.65,262.43 108.70,261.90 C109.75,261.37 111.35,261.73 112.50,261.20 C113.65,260.67 114.35,259.22 115.60,258.70 C116.85,258.18 118.13,258.10 120.00,258.10Z" fill="#626166"/>
<path d="M159.90,256.00 C162.40,256.00 165.42,256.82 167.40,258.10 C169.38,259.38 170.92,261.72 171.80,263.70 C172.68,265.68 172.80,267.82 172.70,270.00 C172.60,272.18 171.98,274.83 171.20,276.80 C170.42,278.77 168.95,280.43 168.00,281.80 C167.05,283.17 166.02,283.63 165.50,285.00 C164.98,286.37 164.68,288.65 164.90,290.00 C165.12,291.35 165.75,292.07 166.80,293.10 C167.85,294.13 170.17,295.05 171.20,296.20 C172.23,297.35 172.58,298.43 173.00,300.00 C173.42,301.57 173.70,305.60 173.70,305.60 C173.70,305.60 149.30,305.60 149.30,305.60 C149.30,305.60 149.38,301.07 149.90,299.30 C150.42,297.53 151.35,296.35 152.40,295.00 C153.45,293.65 155.53,292.67 156.20,291.20 C156.87,289.73 156.82,287.28 156.40,286.20 C155.98,285.12 154.67,285.07 153.70,284.70 C152.73,284.33 151.43,284.33 150.60,284.00 C149.77,283.67 149.07,283.27 148.70,282.70 C148.33,282.13 148.62,281.27 148.40,280.60 C148.18,279.93 147.60,279.38 147.40,278.70 C147.20,278.02 147.45,277.23 147.20,276.50 C146.95,275.77 145.90,274.30 145.90,274.30 C145.90,274.30 147.47,272.55 148.10,271.20 C148.73,269.85 149.50,267.75 149.70,266.20 C149.90,264.65 148.85,263.25 149.30,261.90 C149.75,260.55 150.63,259.08 152.40,258.10 C154.17,257.12 157.40,256.00 159.90,256.00Z" fill="#626166"/>
<path d="M154.9,143.6 L169.7,143.6 L161.9,151.1 L168.8,154.6 L159.0,170.0 L133.0,166.0Z M133.9,162.4 L158.4,166.8 L170.6,168.6 L169.7,178.2 L167.1,185.2 L161.9,188.6 L137.4,186.9 L113.0,181.7 L112.1,177.3 L116.4,174.7 L116.4,169.4 L126.9,168.6 L126.9,164.2Z" fill="#626166" fill-rule="nonzero"/>
<path d="M119.5,182.0 L123.0,183.0 L122.3,196.0 L120.3,196.0Z" fill="#626166"/>
<path d="M146.0,188.0 L151.5,188.0 L150.5,205.0 L149.5,212.3 L147.8,212.3 L147.0,205.0Z" fill="#626166"/>
<path d="M157.3,187.0 L161.5,187.0 L160.8,195.8 L158.2,195.8Z" fill="#626166"/>
<rect x="133.6" y="188" width="2" height="15" fill="#626166"/><rect x="136.4" y="188" width="2" height="15" fill="#626166"/>
<rect x="130.4" y="202.8" width="10.5" height="2.4" fill="#626166"/>
<path d="M97.3,192.4 L112.6,190.4 L119.9,196.6 L104.5,199.2Z" fill="#626166"/>
<rect x="98.3" y="194" width="2.0" height="13.900000000000006" fill="#626166"/>
<rect x="104.6" y="197" width="2.200000000000003" height="21.30000000000001" fill="#626166"/>
<rect x="117" y="195" width="2" height="19.80000000000001" fill="#626166"/>
<rect x="110" y="197" width="1.5" height="8" fill="#626166"/>
<line x1="735.7" y1="28.3" x2="735.7" y2="414" stroke="#6a6a6c" stroke-width="1.3" stroke-dasharray="1.2 3.5"/>
<line x1="886" y1="28.3" x2="886" y2="414" stroke="#6a6a6c" stroke-width="1.3" stroke-dasharray="1.2 3.5"/>
<line x1="585.5" y1="30.5" x2="585.5" y2="409" stroke="#3a3a3c" stroke-width="1.2"/>
<line x1="570" y1="218.8" x2="1015" y2="218.8" stroke="#3f3f41" stroke-width="1.6"/>
<circle cx="585.6" cy="218.8" r="3.3" fill="#fff" stroke="#3a3a3c" stroke-width="1.2"/>
<line x1="561" y1="410.8" x2="1016.8" y2="410.8" stroke="#5a5a5c" stroke-width="2"/>
<polygon points="735.5,410.8 726.6,406.8 726.6,414.8" fill="#5a5a5c"/>
<polygon points="736,410.8 744.5,406.8 744.5,414.8" fill="#5a5a5c"/>
<polygon points="885.8,410.8 877,406.8 877,414.8" fill="#5a5a5c"/>
<polygon points="885.8,410.8 894.6,406.8 894.6,414.8" fill="#5a5a5c"/>
<text x="598" y="428.7" font-size="12.85" fill="#2a2a2c">Low noise because</text>
<text x="598" y="444.6" font-size="12.85" fill="#2a2a2c">high-gain A/D</text>
<text x="598" y="460.5" font-size="12.85" fill="#2a2a2c">converter selected</text>
<text x="749.6" y="428.7" font-size="12.85" fill="#2a2a2c">No clipping because</text>
<text x="749.6" y="444.6" font-size="12.85" fill="#2a2a2c">low-gain A/D</text>
<text x="749.6" y="460.5" font-size="12.85" fill="#2a2a2c">converter selected</text>
<text x="902" y="428.7" font-size="12.85" fill="#2a2a2c">Low noise because</text>
<text x="902" y="444.6" font-size="12.85" fill="#2a2a2c">high-gain A/D</text>
<text x="902" y="460.5" font-size="12.85" fill="#2a2a2c">converter selected</text>
</svg></body></html>
